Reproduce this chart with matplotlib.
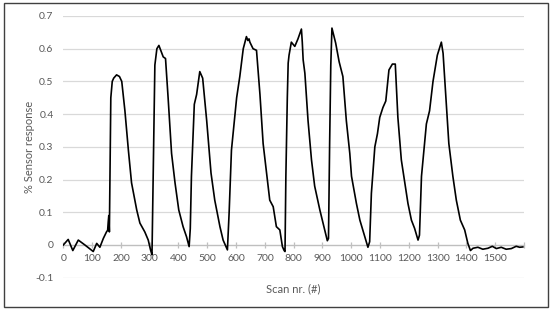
"""Sensor response vs scan number (Excel-style line chart)."""

import matplotlib.pyplot as plt
from matplotlib.patches import Rectangle

plt.rcParams['font.family'] = ['Lato', 'DejaVu Sans']

# values
scan = [0, 17, 33, 52, 75, 104, 116, 127, 139, 150, 154, 156, 158, 160, 162, 165,
        170, 175, 185, 195, 203, 214, 226, 237, 255, 266, 283, 295, 303, 308,
        312, 318, 325, 332, 347, 355, 364, 376, 388, 401, 416, 428, 437,
        441, 445, 455, 463, 474, 484, 498, 513, 526, 544, 555, 570,
        576, 584, 602, 613, 625, 636, 641, 645, 648, 659, 671, 683, 694, 706, 717,
        729, 740, 752, 761, 767, 770, 773, 778, 781, 784, 792, 804, 815, 827,
        830, 833, 839, 850, 862, 873, 891, 908, 917, 921, 925, 929, 933, 946,
        958, 971, 983, 995, 1001, 1018, 1030, 1047, 1058, 1064, 1070, 1082,
        1091, 1099, 1110, 1120, 1131, 1143, 1153, 1162, 1174, 1186, 1197, 1209,
        1220, 1232, 1237, 1244, 1261, 1272, 1284, 1299, 1313, 1319, 1328, 1339,
        1353, 1365, 1379, 1394, 1405, 1414, 1423, 1440, 1457, 1475, 1490, 1504,
        1521, 1538, 1556, 1573, 1585, 1596]
response = [0.0, 0.017, -0.017, 0.015, 0.0, -0.02, 0.005, -0.007, 0.02, 0.04, 0.045, 0.07, 0.09, 0.04, 0.2, 0.45,
            0.50, 0.51, 0.52, 0.515, 0.50, 0.41, 0.29, 0.19, 0.107, 0.067, 0.04, 0.015, -0.015, -0.03,
            0.2, 0.55, 0.60, 0.61, 0.575, 0.57, 0.45, 0.28, 0.19, 0.107, 0.056, 0.025, -0.005,
            0.05, 0.21, 0.43, 0.46, 0.53, 0.51, 0.38, 0.22, 0.137, 0.056, 0.015, -0.015,
            0.1, 0.29, 0.45, 0.515, 0.60, 0.637, 0.625, 0.63, 0.62, 0.60, 0.595, 0.46, 0.31, 0.22, 0.137,
            0.117, 0.056, 0.046, -0.005, -0.017, -0.02, 0.21, 0.45, 0.556, 0.58, 0.62, 0.607, 0.63, 0.66,
            0.62, 0.566, 0.525, 0.38, 0.26, 0.18, 0.107, 0.046, 0.013, 0.02, 0.31, 0.55, 0.663, 0.617,
            0.56, 0.515, 0.38, 0.28, 0.21, 0.127, 0.076, 0.025, -0.007, 0.01, 0.158, 0.30,
            0.34, 0.39, 0.42, 0.44, 0.535, 0.553, 0.553, 0.39, 0.26, 0.19, 0.127, 0.076,
            0.051, 0.015, 0.03, 0.21, 0.37, 0.41, 0.50, 0.58, 0.62, 0.586, 0.464, 0.31,
            0.21, 0.137, 0.076, 0.046, 0.005, -0.017, -0.01, -0.007, -0.013, -0.01, -0.004, -0.011,
            -0.007, -0.013, -0.011, -0.004, -0.007, -0.006]

x_ticks = list(range(0, 1700, 100))
x_labels = [str(t) for t in x_ticks[:-1]] + ['']
y_ticks = [-0.1, 0, 0.1, 0.2, 0.3, 0.4, 0.5, 0.6, 0.7]
y_labels = ['-0.1', '0', '0.1', '0.2', '0.3', '0.4', '0.5', '0.6', '0.7']

fig = plt.figure(figsize=(5.5, 3.11), dpi=100)
ax = fig.add_axes([0.1151, 0.1071, 0.8376, 0.8415])

ax.plot(scan, response, color='black', linewidth=1.2, zorder=3)

ax.set_xlim(0, 1600)
ax.set_ylim(-0.1, 0.7)
ax.set_yticks(y_ticks)
ax.set_yticklabels(y_labels)
ax.set_xticks(x_ticks)
ax.set_xticklabels(x_labels)

for side in ['top', 'right', 'left']:
    ax.spines[side].set_visible(False)
ax.spines['bottom'].set_position(('data', 0))
ax.spines['bottom'].set_color('#bfbfbf')
ax.spines['bottom'].set_linewidth(0.9)

ax.yaxis.grid(True, color='#d9d9d9', linewidth=0.9)
ax.set_axisbelow(True)
ax.tick_params(axis='y', length=0, pad=7, labelsize=7.5, labelcolor='#595959')
ax.tick_params(axis='x', direction='inout', length=5, width=0.9, color='#bfbfbf',
               pad=4, labelsize=7.5, labelcolor='#595959')

fig.text(0.053, 0.527, '% Sensor response', rotation=90, ha='center', va='center',
         fontsize=8, color='#595959')
fig.text(0.534, 0.073, 'Scan nr. (#)', ha='center', va='center',
         fontsize=8, color='#595959')

# border round the whole chart
fig.patches.append(Rectangle((0.008, 0.013), 0.988, 0.977, transform=fig.transFigure,
                             fill=False, edgecolor='#404040', linewidth=1.0))

plt.savefig('out.png', dpi=100)
